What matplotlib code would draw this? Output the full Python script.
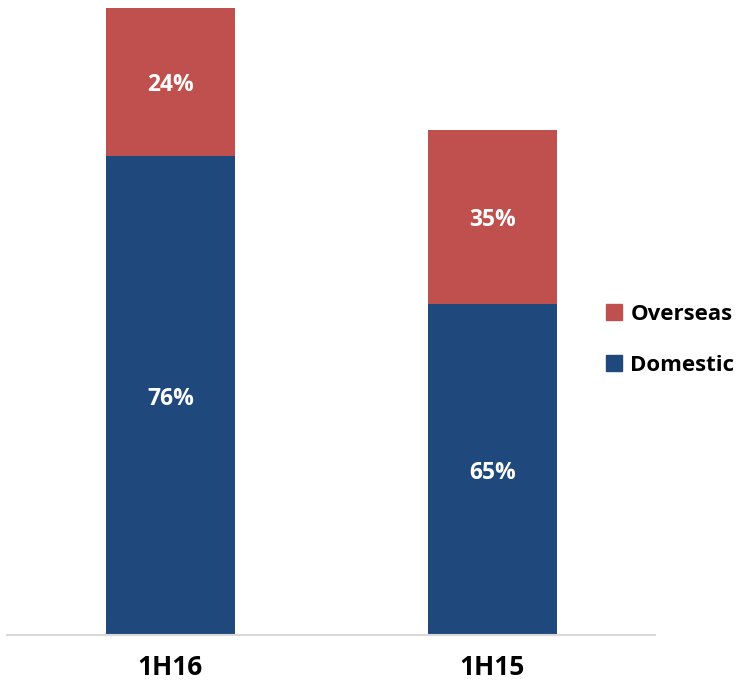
import matplotlib.pyplot as plt
from matplotlib.patches import Patch

# data
periods = ['1H16', '1H15']
domestic = [76.4, 52.8]
overseas = [23.6, 27.7]
domestic_labels = ['76%', '65%']
overseas_labels = ['24%', '35%']

blue = '#1F497D'
red = '#C0504D'

plt.rcParams['font.family'] = ['Open Sans', 'DejaVu Sans']

fig = plt.figure(figsize=(7.51, 6.88), dpi=100)
ax = fig.add_axes([7 / 751, 1 - 635 / 688, 648 / 751, 627 / 688])

x = range(len(periods))
ax.bar(x, domestic, width=0.4, color=blue, label='Domestic')
ax.bar(x, overseas, width=0.4, bottom=domestic, color=red, label='Overseas')

# percentage labels in the middle of each segment
for i in x:
    ax.text(i, domestic[i] / 2 - 0.5, domestic_labels[i], ha='center', va='center',
            color='white', fontsize=16.5, fontweight='bold')
    ax.text(i, domestic[i] + overseas[i] / 2 - 0.5, overseas_labels[i], ha='center',
            va='center', color='white', fontsize=16.5, fontweight='bold')

ax.set_xlim(-0.508, 1.505)
ax.set_ylim(0, 100)
ax.set_xticks(list(x))
ax.set_xticklabels(periods, fontsize=19, fontweight='bold')
ax.tick_params(axis='x', length=0, pad=14)
ax.set_yticks([])
for side in ['top', 'right', 'left']:
    ax.spines[side].set_visible(False)
ax.spines['bottom'].set_color('#D9D9D9')
ax.spines['bottom'].set_linewidth(1.5)

handles = [Patch(color=red, label='Overseas'), Patch(color=blue, label='Domestic')]
fig.legend(handles=handles, loc='center left', bbox_to_anchor=(586 / 751, 1 - 340 / 688),
           frameon=False, handlelength=0.7, handleheight=0.7, handletextpad=0.4,
           labelspacing=1.35, prop={'size': 16, 'weight': 'bold'})

fig.savefig('out.png', dpi=100)
